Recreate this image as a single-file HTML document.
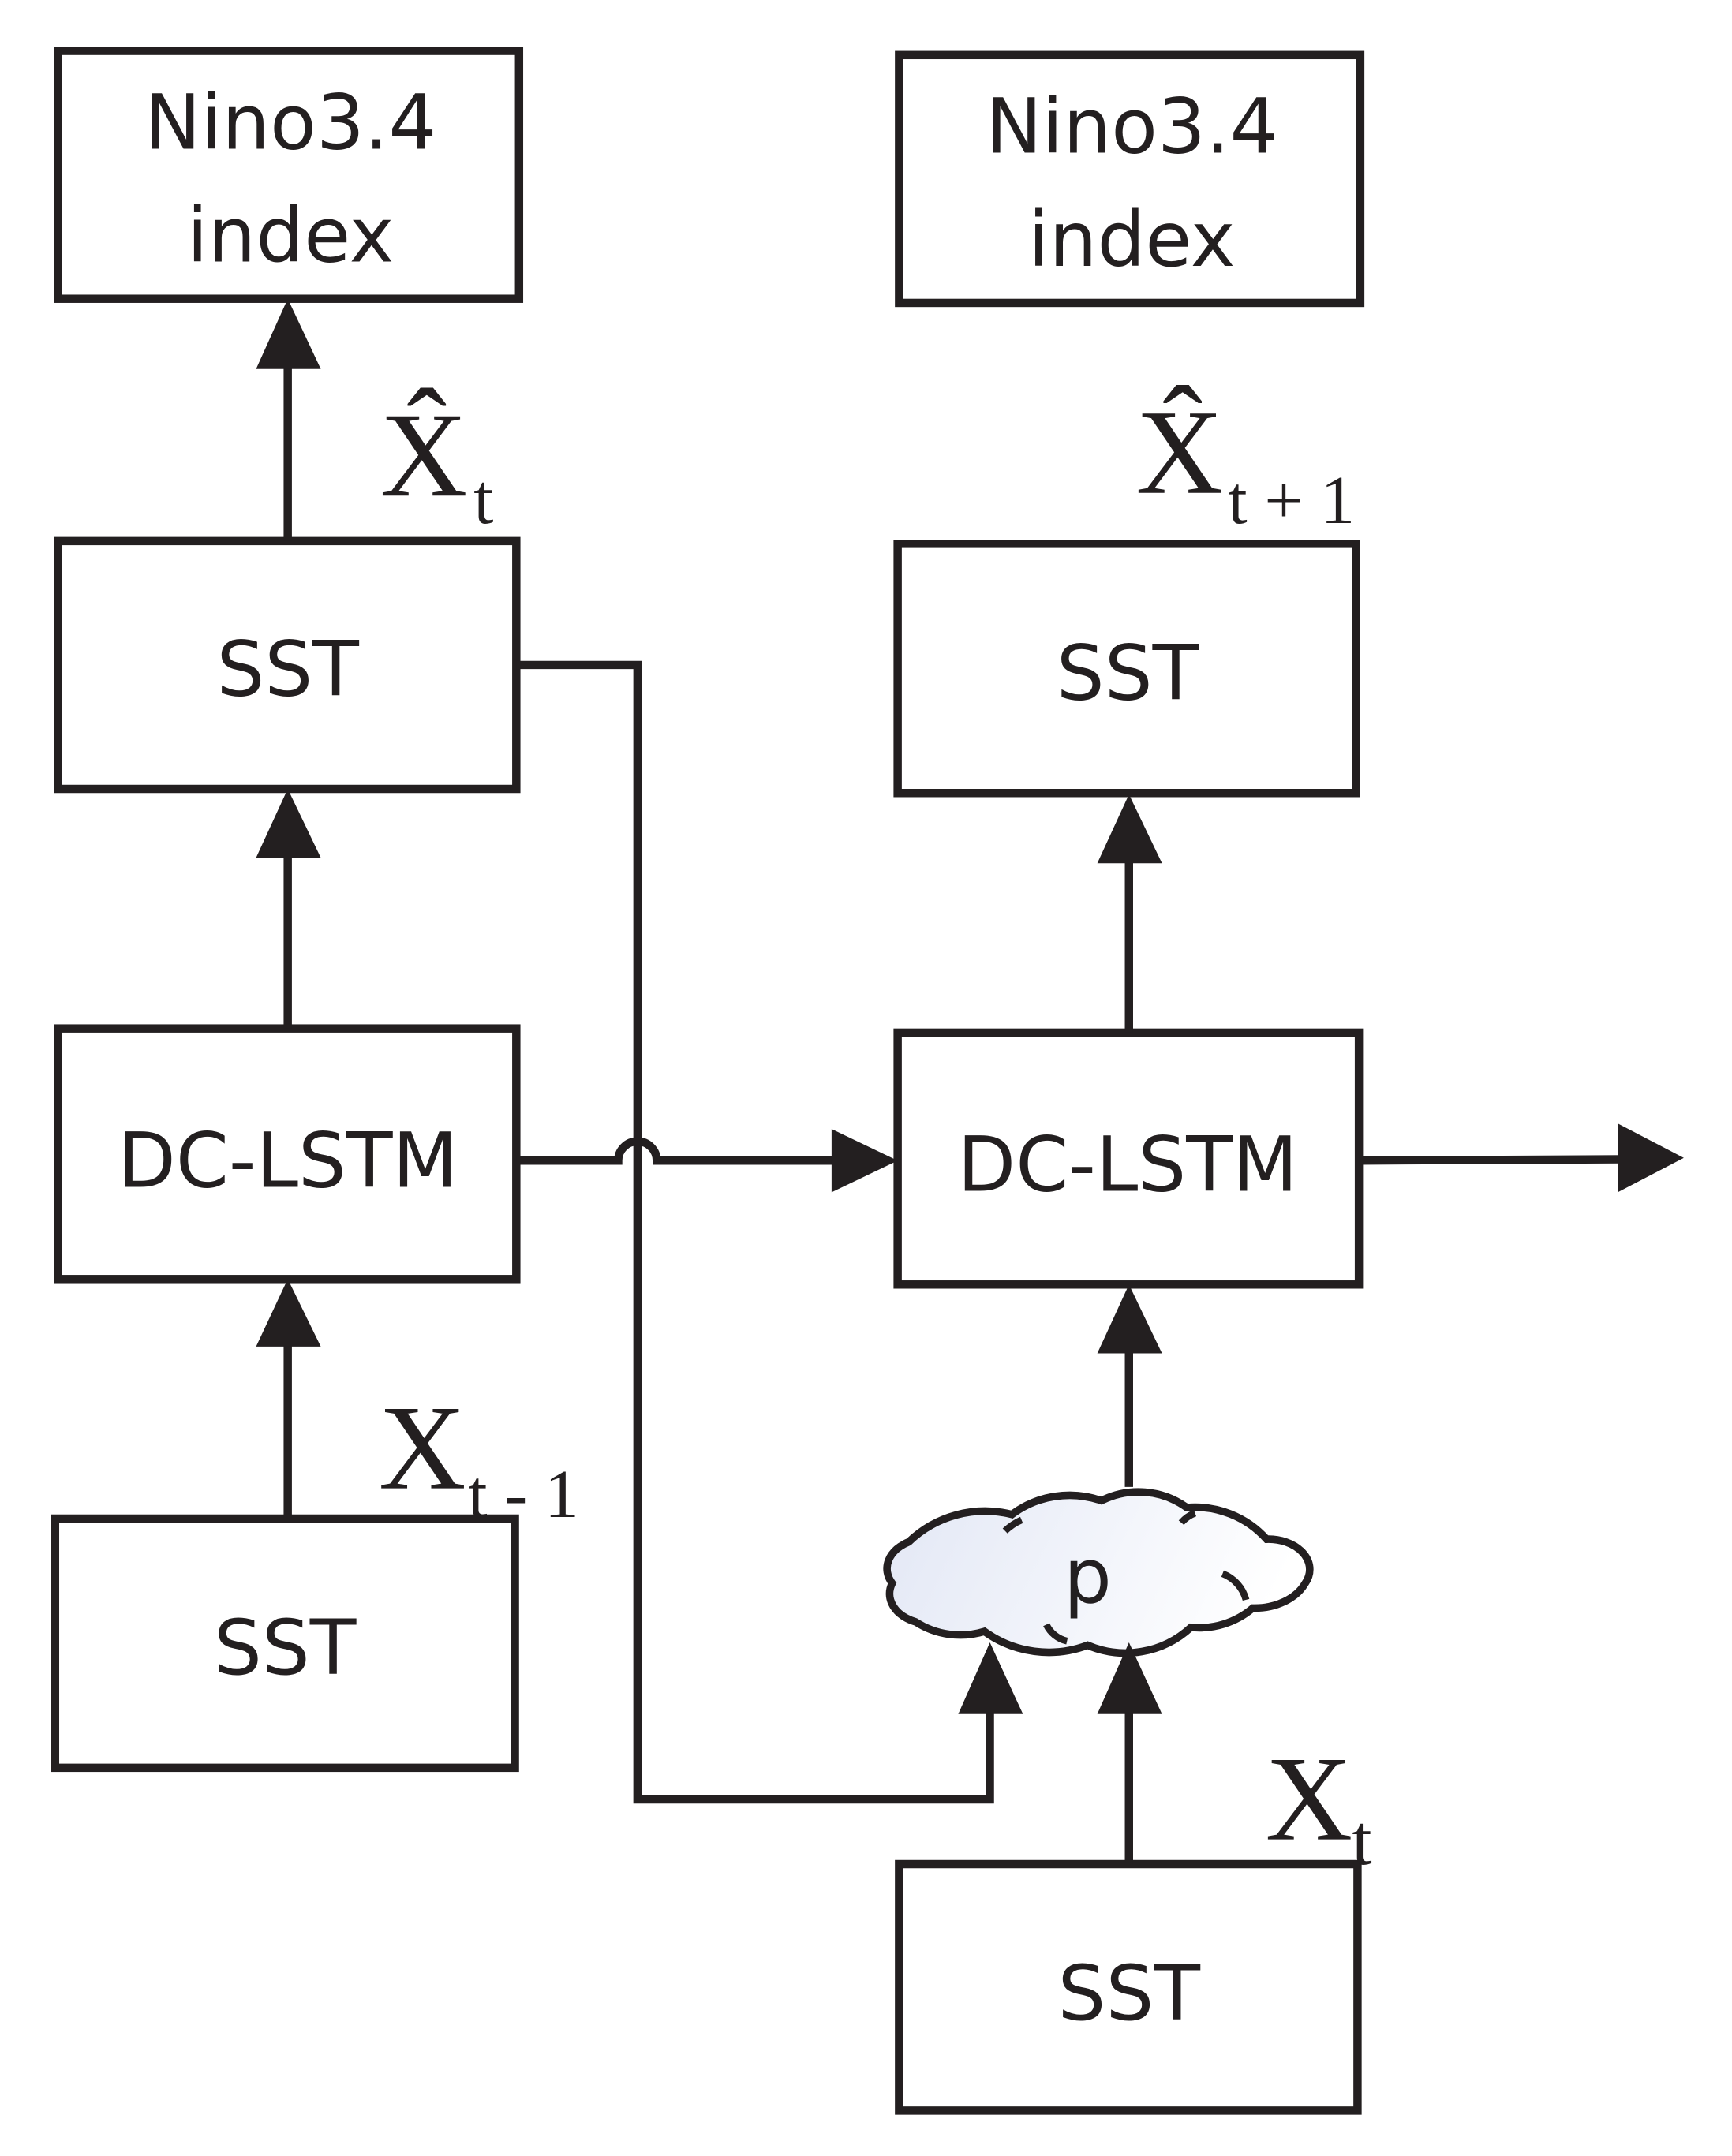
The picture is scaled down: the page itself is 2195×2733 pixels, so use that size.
<!DOCTYPE html>
<html><head><meta charset="utf-8"><style>html,body{margin:0;padding:0;background:#fff}svg{display:block}</style></head>
<body>
<svg width="2195" height="2733" viewBox="0 0 1258 1566" preserveAspectRatio="none" xmlns="http://www.w3.org/2000/svg">
<defs>
<linearGradient id="g" gradientUnits="userSpaceOnUse" x1="640" y1="1080" x2="900" y2="1210">
<stop offset="0" stop-color="#e2e7f5"/><stop offset="1" stop-color="#ffffff"/></linearGradient>
</defs>
<g fill="none" stroke="#231f20" stroke-width="6">
<rect x="42" y="37" width="335" height="180"/>
<rect x="653" y="40" width="335" height="180"/>
<rect x="42" y="393" width="333" height="180"/>
<rect x="652" y="395" width="333" height="181"/>
<rect x="42" y="747" width="333" height="182"/>
<rect x="652" y="750" width="335" height="183"/>
<rect x="40" y="1103" width="334" height="181"/>
<rect x="653" y="1354" width="333" height="179"/>
<line x1="209" y1="393" x2="209" y2="262"/>
<line x1="209" y1="747" x2="209" y2="618"/>
<line x1="209" y1="1103" x2="209" y2="973"/>
<polyline points="375,483 463,483 463,1307 719,1307 719,1240"/>
<line x1="820" y1="1354" x2="820" y2="1240"/>
<line x1="820" y1="1080" x2="820" y2="978"/>
<line x1="820" y1="750" x2="820" y2="622"/>
<path d="M375,843 H449 A14,14 0 0 1 477,843 H610"/>
<line x1="987" y1="843" x2="1180" y2="842"/>
</g>
<g fill="#231f20">
<polygon points="209,217 186,268 233,268"/>
<polygon points="209,573 186,623 233,623"/>
<polygon points="209,929 186,978 233,978"/>
<polygon points="820,933 797,983 844,983"/>
<polygon points="820,577 797,627 844,627"/>
<polygon points="652,843 604,820 604,866"/>
<polygon points="1223,841 1175,816 1175,866"/>
</g>
<path fill="url(#g)" stroke="#231f20" stroke-width="5.5" d="M648,1150 A30,22 0 0 1 660,1120 A80,80 0 0 1 735,1100 A70,70 0 0 1 800,1090 A60,60 0 0 1 862,1095 A70,70 0 0 1 920,1118 A30,22 0 0 1 948,1150 A40,30 0 0 1 910,1168 A60,60 0 0 1 865,1182 A70,70 0 0 1 790,1195 A80,80 0 0 1 715,1185 A60,60 0 0 1 665,1178 A30,22 0 0 1 648,1150 Z"/>
<g fill="none" stroke="#231f20" stroke-width="5">
<path d="M742,1104 A40,40 0 0 0 730,1112"/>
<path d="M868,1099 A25,25 0 0 0 858,1106"/>
<path d="M888,1143 A28,28 0 0 1 905,1162"/>
<path d="M760,1180 A22,22 0 0 0 775,1192"/>
</g>
<g fill="#231f20">
<polygon points="719,1193 696,1245 743,1245"/>
<polygon points="820,1193 797,1245 844,1245"/>
</g>
<g font-family="'DejaVu Sans','Liberation Sans',sans-serif" font-size="55" fill="#231f20" text-anchor="middle">
<text x="211" y="108">Nino3.4</text>
<text x="211" y="190">index</text>
<text x="822" y="111">Nino3.4</text>
<text x="822" y="193">index</text>
<text x="209" y="505">SST</text>
<text x="819" y="508">SST</text>
<text x="209" y="862">DC-LSTM</text>
<text x="819" y="865">DC-LSTM</text>
<text x="207" y="1216">SST</text>
<text x="820" y="1467">SST</text>
<text x="790" y="1164">p</text>
</g>
<g font-family="'Liberation Serif',serif" fill="#231f20">
<text x="276" y="360" font-size="88">X̂</text>
<text x="344" y="380" font-size="52">t</text>
<text x="825" y="358" font-size="88">X̂</text>
<text x="892" y="380" font-size="50">t + 1</text>
<text x="275" y="1081" font-size="88">X</text>
<text x="340" y="1102" font-size="50">t - 1</text>
<text x="919" y="1336" font-size="88">X</text>
<text x="982" y="1354" font-size="52">t</text>
</g>
</svg>
</body></html>
